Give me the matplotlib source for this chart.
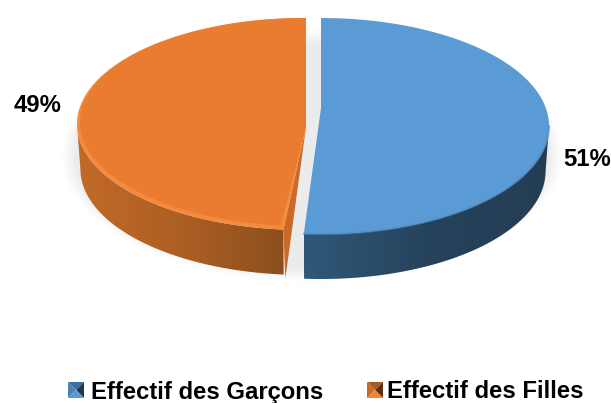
"""Pie chart in pseudo 3D: boys and girls headcount shares."""

import matplotlib

matplotlib.use("Agg")
import matplotlib.pyplot as plt
import numpy as np
from matplotlib.colors import LinearSegmentedColormap
from matplotlib.patches import Polygon

# Data
categories = ["Effectif des Garçons", "Effectif des Filles"]
shares = [51, 49]
share_labels = ["51%", "49%"]

# Colours: top face, rim highlight, wall gradient from left to right
FACE = ["#5b9bd5", "#e97c30"]
RIM = ["#4f8bc2", "#f48a3c"]
WALL = [["#2f5878", "#26435c", "#233d54"], ["#c26a28", "#ad5f24", "#8c4f1e"]]
CUT = "#c9692a"

DEPTH = 45
WARP_BLUE = 1.2  # perspective widens the front of the disc
WARP_ORANGE = 1.45


def rim_points(cx, cy, a, b, start, stop, n=200):
    """Points on the disc ellipse; angles clockwise from 12 o'clock, in degrees."""
    t = np.radians(np.linspace(start, stop, n))
    return np.column_stack([cx + a * np.sin(t), cy - b * np.cos(t)])


def warp(angle, factor):
    """Push an angle away from 6 o'clock to mimic the tilted view."""
    return 180 + (angle - 180) * factor


def draw_shadow(ax, cx, cy, a, b):
    for grow in np.arange(14, 0, -1.5):
        pts = rim_points(cx, cy + 6, a + grow, b + grow, 0, 360)
        ax.add_patch(Polygon(pts, closed=True, fc="#000000", ec="none", alpha=0.0065, zorder=1))


def draw_wall(ax, pts, colors, center_x, zorder):
    """Side wall under the front arc, filled with a left to right gradient."""
    lower = pts + [0, DEPTH]
    lower[:, 0] = center_x + (lower[:, 0] - center_x) * 0.985
    poly = np.vstack([pts, lower[::-1]])
    patch = Polygon(poly, closed=True, fc="none", ec="none", zorder=zorder)
    ax.add_patch(patch)
    cmap = LinearSegmentedColormap.from_list("wall", colors)
    grad = np.linspace(0, 1, 256).reshape(1, -1)
    x0, x1 = poly[:, 0].min(), poly[:, 0].max()
    y0, y1 = poly[:, 1].min(), poly[:, 1].max()
    im = ax.imshow(grad, cmap=cmap, extent=(x0, x1, y1, y0), aspect="auto", zorder=zorder)
    im.set_clip_path(patch)


fig = plt.figure(figsize=(6.11, 4.03), dpi=100)
ax = fig.add_axes([0, 0, 1, 1])
plt.rcParams["font.family"] = ["Liberation Sans", "DejaVu Sans"]

cut = 360 * shares[0] / sum(shares)

# Blue slice runs from 12 o'clock to the cut, orange from the cut back to the top
blue_c = (321, 126)
orange_c = (304, 124)
draw_shadow(ax, 312, 150, 236, 112)

# Orange slice
o_start = warp(cut, WARP_ORANGE)
o_a, o_b = 227, 106
front = rim_points(*orange_c, o_a, o_b, o_start, 270)
draw_wall(ax, front[::-1], WALL[1], orange_c[0], 2)
apex = np.array([306, 127])
end = front[0]
ax.add_patch(Polygon([apex, end, end + [2, DEPTH + 4]], closed=True, fc=CUT, ec="none", zorder=3))
arc = rim_points(*orange_c, o_a, o_b, o_start, 360.5)
ax.add_patch(Polygon(np.vstack([[apex], arc, [[306, 18]]]), closed=True, fc=RIM[1], ec="none", zorder=4))
inner = rim_points(orange_c[0] + 1, orange_c[1] - 2, o_a - 2, o_b - 2, o_start + 1, 360.5)
ax.add_patch(Polygon(np.vstack([[apex], inner, [[306, 18]]]), closed=True, fc=FACE[1], ec="none", zorder=5))

# Blue slice
b_a, b_b = 228, 108
blue_end = warp(cut, WARP_BLUE)
front = rim_points(*blue_c, b_a, b_b, 90, blue_end)
draw_wall(ax, front[::-1], WALL[0], blue_c[0], 2)
arc = rim_points(*blue_c, b_a, b_b, 0, blue_end)
ax.add_patch(Polygon(np.vstack([[[321, 108]], arc]), closed=True, fc=FACE[0], ec="none", zorder=4))
ax.plot(front[:, 0], front[:, 1], color=RIM[0], lw=1.5, alpha=0.6, zorder=5)

# Percent labels
ax.text(563, 159, share_labels[0], fontsize=17.2, fontweight="bold", va="center", ha="left", zorder=6)
ax.text(14, 106, share_labels[1], fontsize=17.2, fontweight="bold", va="center", ha="left", zorder=6)


def legend_marker(x, y, size, left, bottom, top, right):
    """Small bevelled square used as the legend key."""
    c = (x + size / 2, y + size / 2)
    tl, tr, br, bl = (x, y), (x + size, y), (x + size, y + size), (x, y + size)
    for tri, col in [((tl, tr, c), top), ((tr, br, c), right), ((br, bl, c), bottom), ((bl, tl, c), left)]:
        ax.add_patch(Polygon(tri, closed=True, fc=col, ec="none", zorder=6))


legend_marker(68, 382, 16, "#4a82b4", "#5b9bd5", "#3a6f9e", "#1f3a50")
legend_marker(367, 382, 16, "#c86a28", "#f08236", "#a85a20", "#5a3010")
ax.text(91, 392, categories[0], fontsize=17.2, fontweight="bold", va="center", ha="left")
ax.text(387, 392, categories[1], fontsize=17.2, fontweight="bold", va="center", ha="left")

ax.set_xlim(0, 611)
ax.set_ylim(403, 0)
ax.axis("off")

fig.savefig("out.png", dpi=100)
